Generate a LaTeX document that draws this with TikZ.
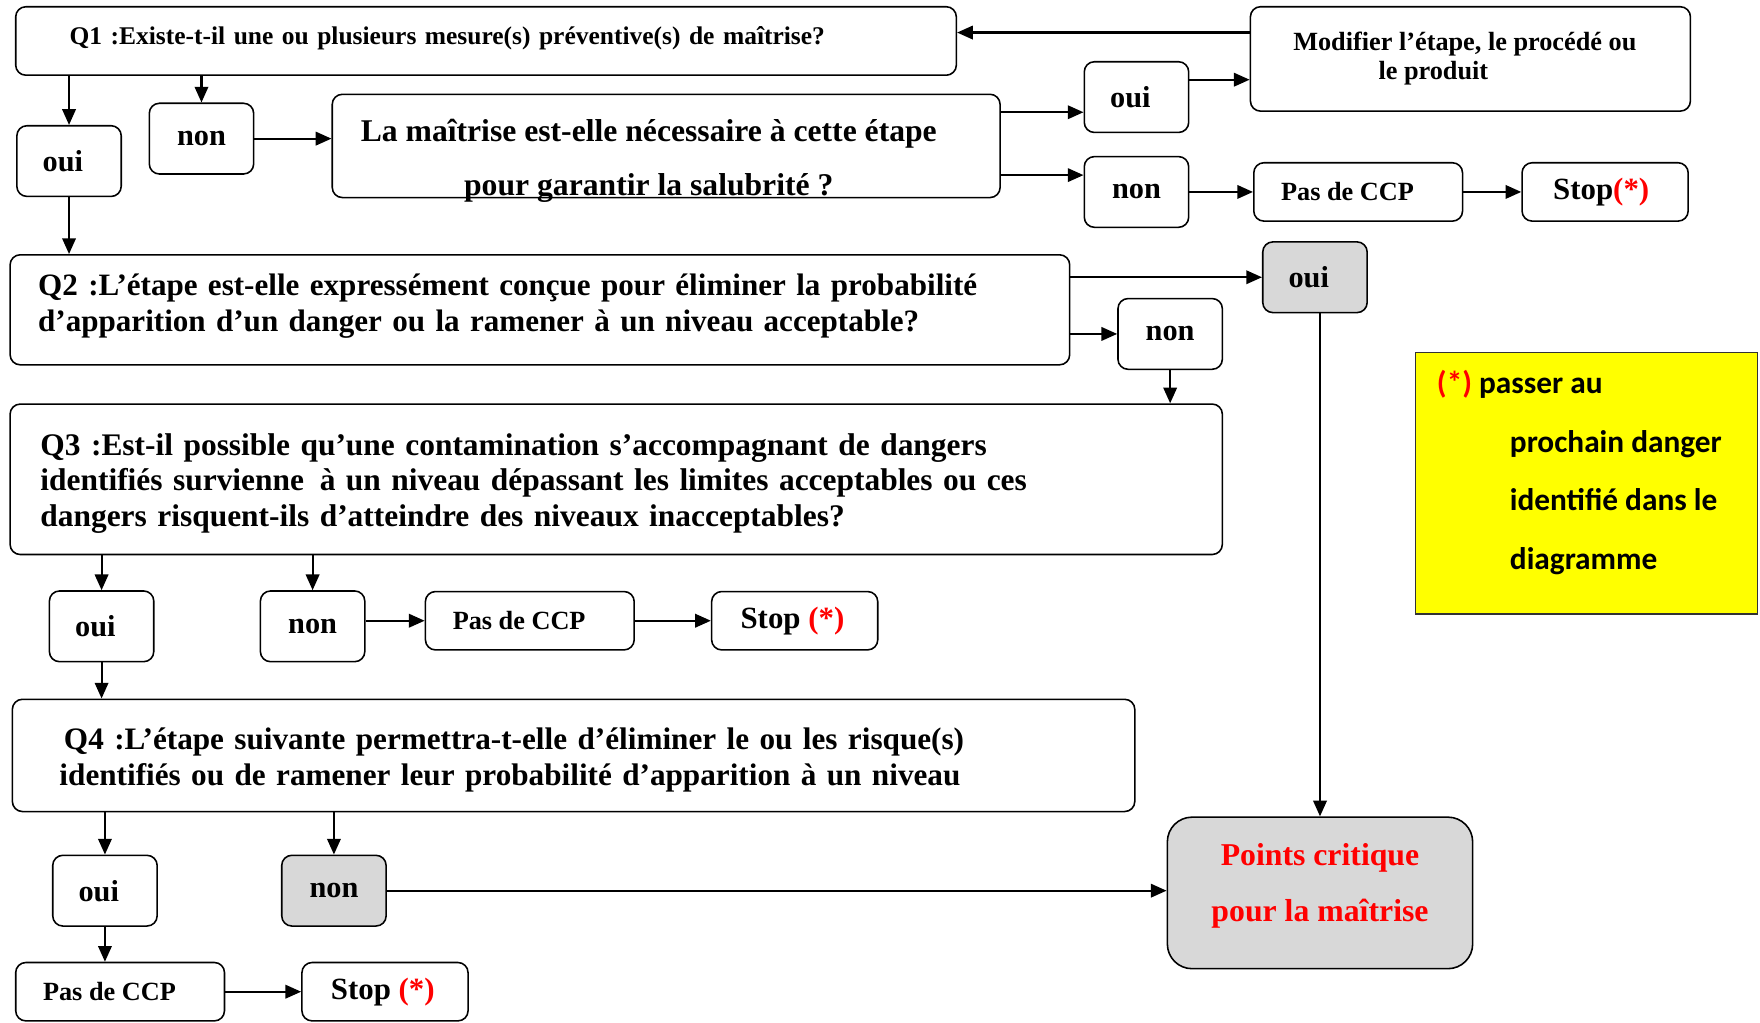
\documentclass[tikz,border=0pt]{standalone}
\usepackage{fontspec}
\setmainfont{Liberation Serif}
\newfontfamily\calib{Carlito}
\usetikzlibrary{arrows.meta}
\definecolor{boxgray}{RGB}{216,216,216}
\definecolor{ccpred}{RGB}{255,0,0}
\definecolor{legyellow}{RGB}{255,255,0}
\tikzset{
  box/.style={draw, rounded corners=9pt, line width=1.4pt, inner sep=0pt, font=\bfseries},
  qbox/.style={box, align=left, inner ysep=0pt},
  yn/.style={box, minimum width=93pt, minimum height=63pt, font=\bfseries\fontsize{27}{30}\selectfont},
  ccp/.style={box, minimum width=186pt, minimum height=52pt, font=\bfseries\fontsize{23.4}{26}\selectfont},
  stopbox/.style={box, minimum width=148pt, minimum height=52pt, font=\bfseries\fontsize{27.5}{30}\selectfont},
  arr/.style={line width=1.9pt, -{Triangle[length=14pt,width=12pt]}},
}
\newcommand{\redast}{\textcolor{ccpred}{(*)}}
\newcommand{\ouitxt}{oui\kern11pt}
\newcommand{\ccptxt}{Pas de CCP\kern19pt}
\begin{document}
\begin{tikzpicture}[x=1pt,y=-1pt]
\useasboundingbox (0,0) rectangle (1568,911);
% Q1
\node[qbox, minimum width=838pt, minimum height=61pt, text width=742pt, inner xsep=48pt,
  font=\bfseries\fontsize{22.7}{26}\selectfont] (q1) at (433,36.5)
  {Q1 :Existe-t-il une ou plusieurs mesure(s) préventive(s) de maîtrise?\rule[-9pt]{0pt}{9pt}};
\node[yn] (o1) at (61.5,143.5) {\ouitxt};
\node[yn] (n1) at (179.5,123.5) {non};
\node[box, minimum width=595pt, minimum height=92pt] (m) at (593.5,130) {};
\node[font=\bfseries\fontsize{28.2}{48}\selectfont, align=center, inner sep=0pt] (mt) at (578,143)
  {La maîtrise est-elle nécessaire à cette étape\\pour garantir la salubrité ?};
\node[yn] (o2) at (1012.5,86.5) {\ouitxt};
\node[yn] (n2) at (1012.5,171) {non};
\node[box, minimum width=392pt, minimum height=93pt, align=center,
  font=\bfseries\fontsize{23.4}{26}\selectfont] (mod) at (1310,52.5)
  {Modifier l’étape, le procédé ou\kern10pt\relax\\le produit\kern66pt\relax};
\node[ccp] (p1) at (1210,171) {\ccptxt};
\node[stopbox] (s1) at (1430,171) {Stop\redast\kern7pt};
% Q2
\node[yn, fill=boxgray] (o3) at (1171.5,247) {\ouitxt};
\node[qbox, minimum width=944pt, minimum height=98pt, text width=894pt, inner xsep=25pt,
  font=\bfseries\fontsize{27.7}{32}\selectfont] (q2) at (481,276)
  {Q2 :L’étape est-elle expressément conçue pour éliminer la probabilité\\
   d’apparition d’un danger ou la ramener à un niveau acceptable?\rule[-12pt]{0pt}{12pt}};
\node[yn] (n3) at (1042.5,297.5) {non};
% Q3
\node[qbox, minimum width=1080pt, minimum height=134pt, text width=1026pt, inner xsep=27pt,
  font=\bfseries\fontsize{28}{32}\selectfont] (q3) at (549,427)
  {\rule{0pt}{27pt}Q3 :Est-il possible qu’une contamination s’accompagnant de dangers\\
   identifiés survienne\, à un niveau dépassant les limites acceptables ou ces\\
   dangers risquent-ils d’atteindre des niveaux inacceptables?};
\node[yn] (o4) at (90.5,558) {\ouitxt};
\node[yn] (n4) at (278.5,558) {non};
\node[ccp] (p2) at (472,553) {\ccptxt};
\node[stopbox] (s2) at (708,553) {Stop \redast\kern4pt};
% Q4
\node[qbox, minimum width=1000pt, minimum height=100pt, text width=916pt, inner xsep=42pt,
  font=\bfseries\fontsize{27.8}{32}\selectfont] (q4) at (511,673)
  {\rule{0pt}{28pt}\hspace*{4pt}Q4 :L’étape suivante permettra-t-elle d’éliminer le ou les risque(s)\\
   identifiés ou de ramener leur probabilité d’apparition à un niveau};
\node[yn] (o5) at (93.5,793.5) {\ouitxt};
\node[yn, fill=boxgray] (n5) at (297.5,793.5) {non};
\node[ccp] (p3) at (107,883.5) {\ccptxt};
\node[stopbox] (s3) at (343,883.5) {Stop \redast\kern4pt};
% Points critiques
\node[box, rounded corners=22pt, fill=boxgray, minimum width=272pt, minimum height=135pt,
  align=center, text=ccpred, font=\bfseries\fontsize{28.3}{50}\selectfont] (pc) at (1176,795.5)
  {Points critique\\pour la maîtrise\\[-32pt]};
% Legend
\node[draw=black!80, line width=1.2pt, fill=legyellow, minimum width=305pt, minimum height=233pt,
  inner sep=0pt] (leg) at (1413.5,430.5) {};
\node[anchor=north west, align=left, inner sep=0pt, font=\calib\bfseries\fontsize{27.9}{52.3}\selectfont]
  (legt) at (1280,329.5)
  {\textcolor{ccpred}{(*)} passer au\\
   \hspace*{65pt}prochain danger\\
   \hspace*{65pt}identifié dans le\\
   \hspace*{65pt}diagramme};
% coordinates for off-centre connectors
\coordinate (cmod) at (0,29);
\coordinate (cm1) at (0,100);
\coordinate (cm2) at (0,156);
\coordinate (co2) at (0,71);
% connectors
\draw[arr] (mod.west |- cmod) -- (q1.east |- cmod);
\draw[arr] (o1.north |- q1.south) -- (o1.north);
\draw[arr] (n1.north |- q1.south) -- (n1.north);
\draw[arr] (o1.south) -- (o1.south |- q2.north);
\draw[arr] (n1.east) -- (n1.east -| m.west);
\draw[arr] (m.east |- cm1) -- (o2.west |- cm1);
\draw[arr] (m.east |- cm2) -- (n2.west |- cm2);
\draw[arr] (o2.east |- co2) -- (mod.west |- co2);
\draw[arr] (n2.east) -- (n2.east -| p1.west);
\draw[arr] (p1.east) -- (s1.west);
\draw[arr] (q2.east |- o3.west) -- (o3.west);
\draw[arr] (q2.east |- n3.west) -- (n3.west);
\draw[arr] (n3.south) -- (n3.south |- q3.north);
\draw[arr] (o3.south -| pc.north) -- (pc.north);
\draw[arr] (o4.north |- q3.south) -- (o4.north);
\draw[arr] (n4.north |- q3.south) -- (n4.north);
\draw[arr] (n4.east |- p2.west) -- (p2.west);
\draw[arr] (p2.east) -- (s2.west);
\draw[arr] (o4.south) -- (o4.south |- q4.north);
\draw[arr] (o5.north |- q4.south) -- (o5.north);
\draw[arr] (n5.north |- q4.south) -- (n5.north);
\draw[arr] (n5.east) -- (n5.east -| pc.west);
\draw[arr] (o5.south) -- (o5.south |- p3.north);
\draw[arr] (p3.east) -- (s3.west);
\end{tikzpicture}
\end{document}
